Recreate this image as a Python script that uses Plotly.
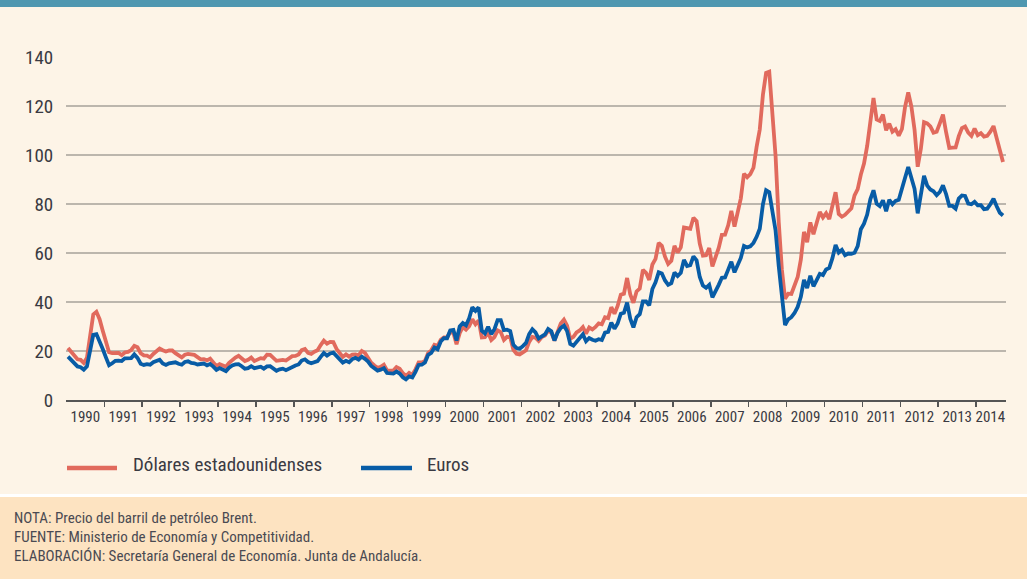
import plotly.graph_objects as go

# ---------------- data (monthly, Jan 1990 - Sep 2014) ----------------
years = list(range(1990, 2015))

usd = [
    21.2, 19.8, 18.4, 16.6, 16.4, 15.1, 17.2, 27.2, 34.9, 36.0, 33.0, 28.3,   # 1990
    23.6, 19.5, 19.1, 19.2, 19.2, 18.3, 19.4, 19.6, 20.4, 22.1, 21.5, 19.1,   # 1991
    18.2, 18.1, 17.4, 18.8, 19.8, 21.0, 20.3, 19.8, 20.2, 20.2, 19.1, 18.2,   # 1992
    17.4, 18.5, 18.8, 18.6, 18.4, 17.5, 16.6, 16.7, 16.2, 16.9, 15.2, 13.8,   # 1993
    14.6, 13.9, 13.6, 15.2, 16.5, 17.3, 18.0, 17.0, 15.9, 16.4, 17.3, 15.9,   # 1994
    16.6, 17.1, 16.9, 18.5, 18.4, 17.2, 16.0, 16.2, 16.4, 16.1, 16.9, 17.9,   # 1995
    18.0, 18.6, 20.4, 20.8, 19.2, 18.8, 19.7, 20.3, 22.4, 24.2, 23.0, 23.7,   # 1996
    23.6, 20.9, 19.2, 17.6, 18.6, 17.7, 18.5, 18.6, 18.2, 20.0, 19.2, 17.4,   # 1997
    15.2, 14.1, 13.1, 13.5, 14.4, 12.1, 12.1, 12.0, 13.4, 12.8, 11.0, 9.8,    # 1998
    11.1, 10.3, 12.5, 15.3, 15.3, 15.9, 19.1, 20.3, 22.5, 22.1, 24.6, 25.5,   # 1999
    25.5, 27.8, 27.5, 22.8, 27.3, 29.8, 28.7, 30.1, 33.0, 30.9, 32.5, 25.5,   # 2000
    25.6, 27.5, 24.5, 25.7, 28.4, 27.7, 24.5, 25.8, 25.6, 20.5, 18.9, 18.6,   # 2001
    19.4, 20.3, 23.7, 25.7, 25.4, 24.1, 25.7, 26.3, 28.4, 27.5, 24.3, 28.0,   # 2002
    31.2, 32.8, 30.3, 25.0, 25.8, 27.6, 28.4, 29.8, 27.1, 29.6, 28.8, 29.8,   # 2003
    31.3, 30.9, 33.8, 33.4, 37.9, 35.2, 38.4, 43.0, 43.4, 49.8, 43.1, 39.7,   # 2004
    44.3, 45.5, 53.1, 51.9, 49.0, 55.3, 57.6, 64.1, 62.9, 58.5, 55.5, 56.8,   # 2005
    62.9, 60.2, 62.3, 70.4, 70.0, 69.9, 74.4, 73.0, 63.8, 58.9, 59.1, 62.0,   # 2006
    54.5, 57.8, 62.1, 67.4, 67.5, 71.3, 77.2, 70.8, 77.1, 82.3, 92.4, 90.9,   # 2007
    92.2, 94.8, 103.3, 110.4, 124.6, 133.5, 134.0, 114.6, 99.6, 72.7, 53.2, 41.3,  # 2008
    43.4, 43.3, 46.5, 50.2, 57.3, 68.6, 64.4, 72.5, 67.7, 72.8, 76.7, 74.5,   # 2009
    76.2, 73.8, 78.8, 84.8, 75.9, 74.8, 75.6, 77.1, 78.2, 83.5, 86.1, 92.0,   # 2010
    96.5, 103.7, 114.6, 123.3, 114.5, 113.9, 116.5, 110.1, 112.8, 109.5, 110.5, 107.9,  # 2011
    110.6, 119.7, 125.5, 119.8, 110.3, 95.2, 102.6, 113.4, 112.9, 111.7, 109.1, 109.5,  # 2012
    112.9, 116.5, 109.2, 102.9, 103.0, 103.1, 107.7, 111.0, 111.6, 109.1, 107.8, 110.8,  # 2013
    108.1, 108.9, 107.5, 107.8, 109.5, 111.8, 106.8, 101.6, 97.1,                        # 2014
]

eur = [
    17.7, 16.4, 15.3, 13.7, 13.4, 12.4, 13.7, 20.9, 26.6, 26.9, 24.1, 20.8,   # 1990
    17.4, 14.2, 15.0, 16.0, 16.1, 15.9, 17.0, 16.9, 17.1, 18.6, 17.2, 14.8,   # 1991
    14.3, 14.6, 14.4, 15.4, 15.8, 16.4, 14.9, 14.3, 15.0, 15.4, 15.4, 14.8,   # 1992
    14.4, 15.5, 15.8, 15.1, 15.0, 14.5, 14.6, 14.9, 14.1, 14.7, 13.6, 12.3,   # 1993
    13.0, 12.4, 11.8, 13.2, 14.1, 14.5, 14.6, 13.8, 12.8, 13.0, 13.8, 13.0,   # 1994
    13.3, 13.6, 12.8, 13.7, 13.8, 12.9, 11.9, 12.5, 12.8, 12.2, 12.8, 13.8,   # 1995
    14.1, 14.5, 16.1, 16.6, 15.5, 15.0, 15.5, 15.9, 17.6, 19.2, 18.1, 19.0,   # 1996
    19.3, 17.9, 16.6, 15.3, 16.0, 15.4, 16.7, 17.2, 16.5, 17.7, 16.8, 15.7,   # 1997
    13.9, 12.9, 12.0, 12.4, 13.0, 11.0, 11.0, 10.8, 11.6, 10.8, 9.3, 8.4,     # 1998
    9.6, 9.2, 11.5, 14.3, 14.4, 15.3, 18.4, 19.2, 21.4, 20.7, 23.9, 25.2,     # 1999
    25.2, 28.4, 28.6, 24.3, 30.0, 31.4, 30.5, 33.4, 37.9, 36.4, 37.8, 28.3,   # 2000
    27.2, 29.9, 26.9, 28.9, 32.6, 32.6, 28.5, 28.7, 28.1, 22.5, 21.2, 20.9,   # 2001
    22.0, 23.3, 26.9, 28.9, 27.6, 25.1, 26.0, 26.8, 29.0, 28.1, 24.3, 27.5,   # 2002
    29.4, 30.4, 28.1, 22.9, 22.2, 23.6, 24.9, 26.8, 24.0, 25.3, 24.6, 24.2,   # 2003
    24.8, 24.5, 27.5, 27.8, 31.6, 29.1, 31.2, 35.2, 35.6, 39.8, 33.2, 29.6,   # 2004
    33.8, 35.0, 40.2, 40.2, 38.6, 45.3, 48.0, 52.1, 51.6, 48.8, 47.0, 47.7,   # 2005
    52.0, 50.6, 51.9, 57.2, 54.7, 55.0, 58.6, 57.0, 50.2, 46.7, 45.8, 47.0,   # 2006
    41.9, 44.1, 47.0, 49.9, 50.0, 53.2, 56.4, 52.1, 55.5, 58.0, 62.9, 62.3,   # 2007
    62.7, 64.1, 66.6, 69.9, 79.9, 85.6, 84.8, 76.4, 69.2, 54.7, 41.9, 30.6,   # 2008
    32.9, 33.8, 35.5, 38.0, 42.1, 49.0, 45.7, 50.7, 46.4, 49.2, 51.5, 51.0,   # 2009
    53.3, 53.9, 57.9, 63.3, 60.2, 61.3, 59.1, 59.8, 59.7, 60.1, 62.8, 69.7,   # 2010
    72.0, 75.7, 81.9, 85.6, 80.1, 79.1, 81.5, 77.0, 81.7, 79.9, 81.3, 81.7,   # 2011
    85.7, 90.7, 95.1, 90.8, 86.2, 76.2, 83.4, 91.5, 87.5, 85.9, 85.2, 83.6,   # 2012
    84.9, 87.6, 84.0, 79.2, 79.2, 78.1, 82.2, 83.5, 83.3, 80.2, 79.9, 80.9,   # 2013
    79.5, 79.5, 77.9, 78.1, 79.9, 82.2, 79.1, 76.4, 75.3,                     # 2014
]

series_names = ["Dólares estadounidenses", "Euros"]
y_ticks = [0, 20, 40, 60, 80, 100, 120, 140]
notes = [
    "NOTA: Precio del barril de petróleo Brent.",
    "FUENTE: Ministerio de Economía y Competitividad.",
    "ELABORACIÓN: Secretaría General de Economía. Junta de Andalucía.",
]

# ---------------- styling ----------------
RED = "#e16a5d"
BLUE = "#085ca6"
BG = "#fdf4e7"
FOOT = "#fde3c1"
TOPBAR = "#4f97b0"
GRID = "#bcb6ad"
AXIS = "#555555"
TXT = "#3a3a42"
FONT = "Liberation Sans Narrow, Roboto Condensed, Arial Narrow, Liberation Sans, sans-serif"

W, H = 1027, 579
L, R, T, B = 66, 1006, 57, 400        # plot area in pixels


def px(x):
    return (x - L) / (R - L)


def py(y):
    return (B - y) / (B - T)


months = list(range(len(usd)))
# label at the middle of each year's months, tick marks at year boundaries
label_pos = []
for k, yr in enumerate(years):
    idx = [m for m in months if m // 12 == k]
    label_pos.append(sum(idx) / len(idx))
boundaries = [12 * k - 0.5 for k in range(1, len(years))]

fig = go.Figure()
fig.add_trace(go.Scatter(x=months, y=usd, mode="lines", name=series_names[0],
                         line=dict(color=RED, width=3.8), showlegend=False))
fig.add_trace(go.Scatter(x=months, y=eur, mode="lines", name=series_names[1],
                         line=dict(color=BLUE, width=3.8), showlegend=False))

per = (1003 - 68) / (len(usd) - 1)
x0 = 0 - (68 - L) / per
x1 = (len(usd) - 1) + (R - 1003) / per

fig.update_layout(
    width=W, height=H,
    margin=dict(l=L, r=W - R, t=T, b=H - B, pad=0),
    paper_bgcolor=BG, plot_bgcolor=BG,
    font=dict(family=FONT, color=TXT),
    showlegend=False,
    xaxis=dict(
        range=[x0, x1], tickmode="array", tickvals=label_pos,
        ticktext=[str(y) for y in years],
        ticks="outside", ticklen=2, tickcolor="rgba(0,0,0,0)",
        tickfont=dict(size=15, color=TXT, family=FONT),
        showgrid=False, zeroline=False,
        showline=True, linecolor=AXIS, linewidth=1.5,
        minor=dict(tickmode="array", tickvals=boundaries, ticks="outside",
                   ticklen=5, tickwidth=1.5, tickcolor=AXIS, showgrid=False),
        fixedrange=True,
    ),
    yaxis=dict(
        range=[0, 140], tickmode="array", tickvals=y_ticks,
        ticks="outside", ticklen=8, tickcolor="rgba(0,0,0,0)",
        tickfont=dict(size=19, color=TXT, family=FONT),
        showgrid=True, gridcolor=GRID, gridwidth=1.3,
        zeroline=False, showline=False, fixedrange=True,
    ),
)

shapes = [
    dict(type="rect", xref="paper", yref="paper", x0=px(0), x1=px(W), y0=py(0), y1=py(7),
         fillcolor=TOPBAR, line=dict(width=0), layer="below"),
    dict(type="rect", xref="paper", yref="paper", x0=px(0), x1=px(W), y0=py(494), y1=py(497),
         fillcolor="#ffffff", line=dict(width=0), layer="below"),
    dict(type="rect", xref="paper", yref="paper", x0=px(0), x1=px(W), y0=py(497), y1=py(H),
         fillcolor=FOOT, line=dict(width=0), layer="below"),
    # legend samples
    dict(type="line", xref="paper", yref="paper", x0=px(67), x1=px(117), y0=py(468), y1=py(468),
         line=dict(color=RED, width=4.5)),
    dict(type="line", xref="paper", yref="paper", x0=px(361), x1=px(412), y0=py(468), y1=py(468),
         line=dict(color=BLUE, width=4.5)),
]

annotations = [
    dict(text=series_names[0], xref="paper", yref="paper", x=px(131), y=py(464),
         xanchor="left", yanchor="middle", showarrow=False,
         font=dict(size=19, color=TXT, family=FONT)),
    dict(text=series_names[1], xref="paper", yref="paper", x=px(425), y=py(464),
         xanchor="left", yanchor="middle", showarrow=False,
         font=dict(size=19, color=TXT, family=FONT)),
]
for i, t in enumerate(notes):
    annotations.append(dict(text=t, xref="paper", yref="paper", x=px(12), y=py(518 + 19 * i),
                            xanchor="left", yanchor="middle", showarrow=False,
                            font=dict(size=15, color="#4a4a52", family=FONT)))

fig.update_layout(shapes=shapes, annotations=annotations)
fig.write_html(
    "out.html",
    config={"displayModeBar": False, "staticPlot": True},
    post_script="document.body.style.margin='0';document.body.style.padding='0';"
                "document.documentElement.style.overflow='hidden';",
)
